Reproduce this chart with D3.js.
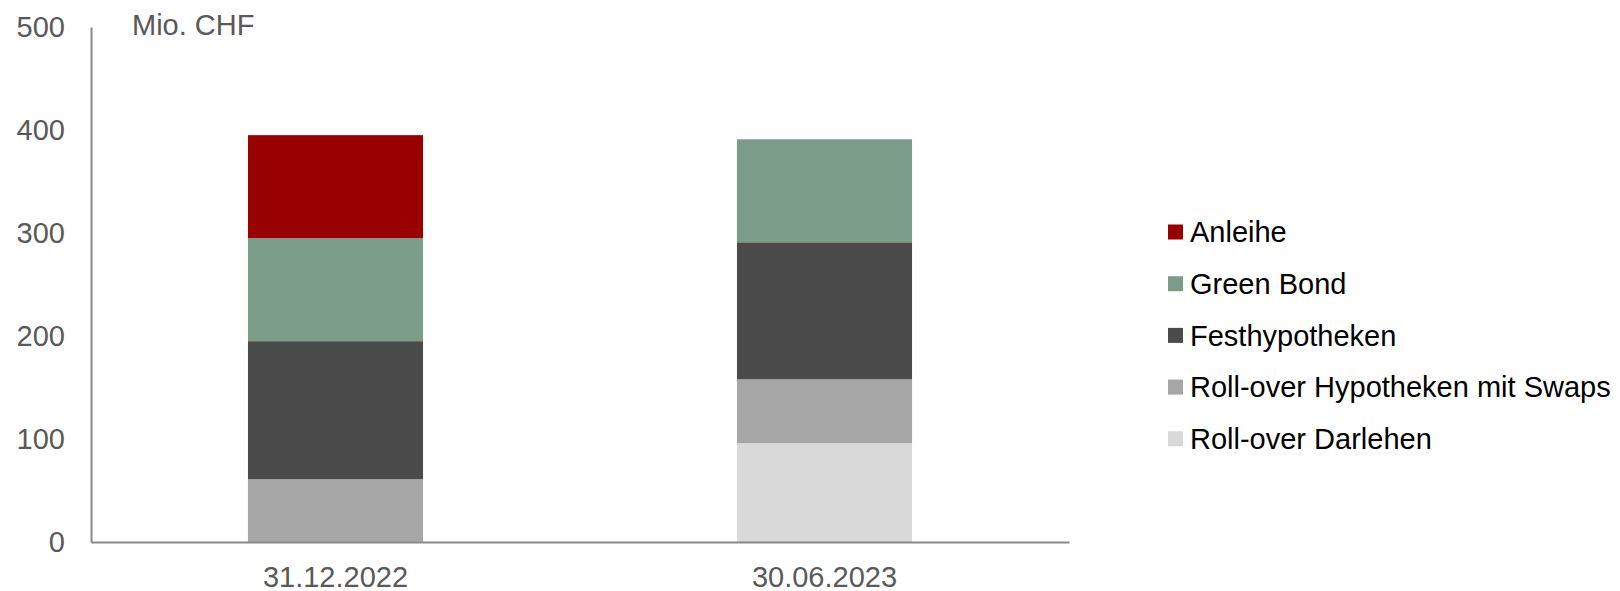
<!DOCTYPE html>
<html>
<head>
<meta charset="utf-8">
<script src="https://cdn.jsdelivr.net/npm/d3@7"></script>
<style>
  html, body { margin: 0; padding: 0; background: #fff; }
  svg { display: block; font-family: "Liberation Sans", Arial, sans-serif; }
</style>
</head>
<body>
<svg id="chart" width="1620" height="591"></svg>
<script>
// Stichtage
const dates = ["31.12.2022", "30.06.2023"];

// Finanzierungsarten (von unten nach oben gestapelt)
const seriesNames = ["Roll-over Darlehen", "Roll-over Hypotheken mit Swaps", "Festhypotheken", "Green Bond", "Anleihe"];
const rollOverDarlehen = [0, 96];
const rollOverSwaps = [61, 62];
const festhypotheken = [134, 133];
const greenBond = [100, 100];
const anleihe = [100, 0];

const seriesColors = ["#d9d9d9", "#a6a6a6", "#4b4b4b", "#7b9c89", "#990000"];
const yTicks = [0, 100, 200, 300, 400, 500];
const unitLabel = "Mio. CHF";

const seriesValues = [rollOverDarlehen, rollOverSwaps, festhypotheken, greenBond, anleihe];
const rows = dates.map((d, i) => {
  const r = { date: d };
  seriesNames.forEach((s, k) => { r[s] = seriesValues[k][i]; });
  return r;
});

const svg = d3.select("#chart");
const plot = { left: 91, right: 1069, top: 27, bottom: 542 };
const fontSize = "29px";

const x = d3.scaleBand()
  .domain(dates)
  .range([plot.left, plot.right])
  .paddingInner(0.642)
  .paddingOuter(0.321);

const y = d3.scaleLinear()
  .domain([0, 500])
  .range([plot.bottom, plot.top]);

const stack = d3.stack().keys(seriesNames);
const layers = stack(rows);
const color = d3.scaleOrdinal().domain(seriesNames).range(seriesColors);

// Gestapelte Säulen
svg.append("g")
  .selectAll("g")
  .data(layers)
  .join("g")
  .attr("fill", d => color(d.key))
  .selectAll("rect")
  .data(d => d.filter(p => p[1] - p[0] > 0))
  .join("rect")
  .attr("x", d => x(d.data.date))
  .attr("width", x.bandwidth())
  .attr("y", d => y(d[1]))
  .attr("height", d => y(d[0]) - y(d[1]));

// Y-Achse
const yAxis = svg.append("g")
  .attr("transform", `translate(${plot.left},0)`)
  .call(d3.axisLeft(y).tickValues(yTicks).tickSize(0).tickPadding(26).tickFormat(d3.format("d")));
yAxis.select(".domain").attr("stroke", "#898989").attr("stroke-width", 2);
yAxis.selectAll("text")
  .attr("fill", "#595959")
  .style("font-size", fontSize)
  .style("font-family", "'Liberation Sans', Arial, sans-serif");

// X-Achse
const xAxis = svg.append("g")
  .attr("transform", `translate(0,${plot.bottom})`)
  .call(d3.axisBottom(x).tickSize(0).tickPadding(24));
xAxis.select(".domain").attr("stroke", "#898989").attr("stroke-width", 2);
xAxis.selectAll("text")
  .attr("fill", "#595959")
  .style("font-size", fontSize)
  .style("font-family", "'Liberation Sans', Arial, sans-serif");

// Einheit
svg.append("text")
  .attr("x", 132)
  .attr("y", 25)
  .attr("dy", "0.35em")
  .attr("fill", "#595959")
  .style("font-size", fontSize)
  .text(unitLabel);

// Legende (oben die oberste Schicht)
const legendOrder = seriesNames.slice().reverse();
const legend = svg.append("g")
  .selectAll("g")
  .data(legendOrder)
  .join("g")
  .attr("transform", (d, i) => `translate(1168,${232 + i * 51.7})`);
legend.append("rect")
  .attr("x", 0).attr("y", -7.5)
  .attr("width", 15).attr("height", 15)
  .attr("fill", d => color(d));
legend.append("text")
  .attr("x", 22)
  .attr("y", 0)
  .attr("dy", "0.35em")
  .attr("fill", "#000")
  .style("font-size", fontSize)
  .text(d => d);
</script>
</body>
</html>
